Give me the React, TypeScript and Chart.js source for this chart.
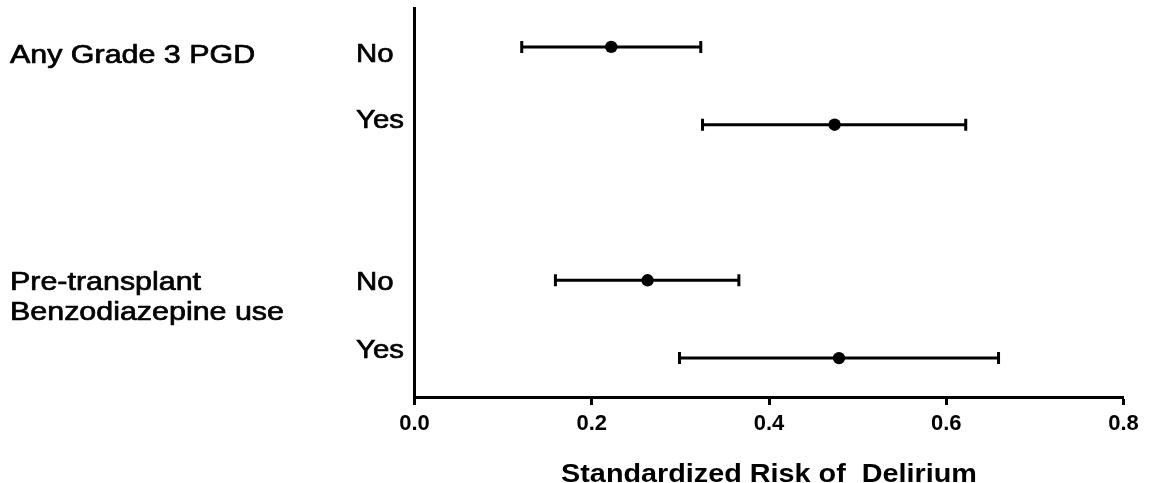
import React, { useEffect, useRef } from "react";
import { Chart, registerables } from "chart.js";

Chart.register(...registerables);

// ---- data ----
const groupLabels: string[][] = [["Any Grade 3 PGD"], ["Pre-transplant", "Benzodiazepine use"]];
const groupFirstRow = [0, 2];
const rowLabels = ["No", "Yes", "No", "Yes"];
const rowPositions = [0, 1, 3, 4];
const estimates = [0.222, 0.474, 0.263, 0.479];
const lowerCI = [0.121, 0.325, 0.159, 0.299];
const upperCI = [0.323, 0.622, 0.366, 0.659];
const xTicks = [0, 0.2, 0.4, 0.6, 0.8];
const xTitle = "Standardized Risk of  Delirium";

const FONT = "'Liberation Sans', Arial, Helvetica, sans-serif";

function stretchedText(
  ctx: CanvasRenderingContext2D,
  text: string,
  x: number,
  y: number,
  sx: number,
  align: CanvasTextAlign,
  stroke: number
) {
  ctx.save();
  ctx.translate(x, y);
  ctx.scale(sx, 1);
  ctx.textAlign = align;
  ctx.textBaseline = "alphabetic";
  ctx.fillText(text, 0, 0);
  if (stroke > 0) {
    ctx.lineWidth = stroke;
    ctx.strokeStyle = "#000";
    ctx.lineJoin = "round";
    ctx.strokeText(text, 0, 0);
  }
  ctx.restore();
}

const forestPlugin = {
  id: "forestExtras",
  beforeDatasetsDraw(chart: any) {
    const { ctx, scales } = chart;
    const xs = scales.x;
    const ys = scales.y;
    ctx.save();
    ctx.strokeStyle = "#000";
    ctx.lineWidth = 3;
    ctx.lineCap = "butt";
    rowPositions.forEach((pos, i) => {
      const y = ys.getPixelForValue(pos);
      const x1 = xs.getPixelForValue(lowerCI[i]);
      const x2 = xs.getPixelForValue(upperCI[i]);
      ctx.beginPath();
      ctx.moveTo(x1, y);
      ctx.lineTo(x2, y);
      ctx.moveTo(x1, y - 6);
      ctx.lineTo(x1, y + 6);
      ctx.moveTo(x2, y - 6);
      ctx.lineTo(x2, y + 6);
      ctx.stroke();
    });
    ctx.restore();
  },
  afterDraw(chart: any) {
    const { ctx, scales, chartArea } = chart;
    const ys = scales.y;
    ctx.save();
    ctx.fillStyle = "#000";
    // row labels (No / Yes)
    const rowOffsets = [15, 3, 10, 0];
    ctx.font = `26px ${FONT}`;
    rowLabels.forEach((lab, i) => {
      const y = ys.getPixelForValue(rowPositions[i]) + rowOffsets[i];
      stretchedText(ctx, lab, 356, y, 1.13, "left", 0.7);
    });
    // group labels
    const groupOffsets = [16, 10];
    groupLabels.forEach((lines, g) => {
      const base = ys.getPixelForValue(rowPositions[groupFirstRow[g]]) + groupOffsets[g];
      lines.forEach((line, k) => {
        stretchedText(ctx, line, 10, base + k * 30, 1.17, "left", 0.7);
      });
    });
    // axis title
    ctx.font = `bold 26px ${FONT}`;
    stretchedText(ctx, xTitle, (chartArea.left + chartArea.right) / 2, 482, 1.107, "center", 0);
    ctx.restore();
  },
};

export default function App() {
  const canvasRef = useRef<HTMLCanvasElement | null>(null);

  useEffect(() => {
    if (!canvasRef.current) return;
    const chart = new Chart(canvasRef.current, {
      type: "scatter",
      data: {
        datasets: [
          {
            data: rowPositions.map((y, i) => ({ x: estimates[i], y })),
            pointRadius: 6.2,
            pointHoverRadius: 6.2,
            backgroundColor: "#000",
            borderColor: "#000",
            borderWidth: 0,
            showLine: false,
          },
        ],
      },
      options: {
        animation: false,
        responsive: true,
        maintainAspectRatio: false,
        events: [],
        layout: { padding: { left: 414.5, right: 28.5, top: 8, bottom: 0 } },
        plugins: {
          legend: { display: false },
          tooltip: { enabled: false },
          title: { display: false },
        },
        scales: {
          x: {
            type: "linear",
            position: "bottom",
            min: 0,
            max: 0.8,
            afterBuildTicks: (s: any) => {
              s.ticks = xTicks.map((v) => ({ value: v }));
            },
            afterFit: (s: any) => {
              s.height = 86;
            },
            ticks: {
              color: "#000",
              font: { family: FONT, size: 22, weight: "bold" },
              padding: 6,
              maxRotation: 0,
              callback: (v: any) => Number(v).toFixed(1),
            },
            grid: {
              display: true,
              drawOnChartArea: false,
              drawTicks: true,
              tickLength: 8,
              tickWidth: 3,
              color: "#000",
            },
            border: { display: true, color: "#000", width: 3 },
          },
          y: {
            type: "linear",
            position: "left",
            min: -0.5,
            max: 4.5,
            reverse: true,
            afterFit: (s: any) => {
              s.width = 0;
            },
            ticks: { display: false },
            grid: { display: false, drawTicks: false },
            border: { display: true, color: "#000", width: 3 },
          },
        },
      },
      plugins: [forestPlugin],
    });
    return () => chart.destroy();
  }, []);

  return (
    <div style={{ position: "absolute", left: 0, top: 0, width: 1152, height: 483, background: "#fff" }}>
      <canvas ref={canvasRef} />
    </div>
  );
}
